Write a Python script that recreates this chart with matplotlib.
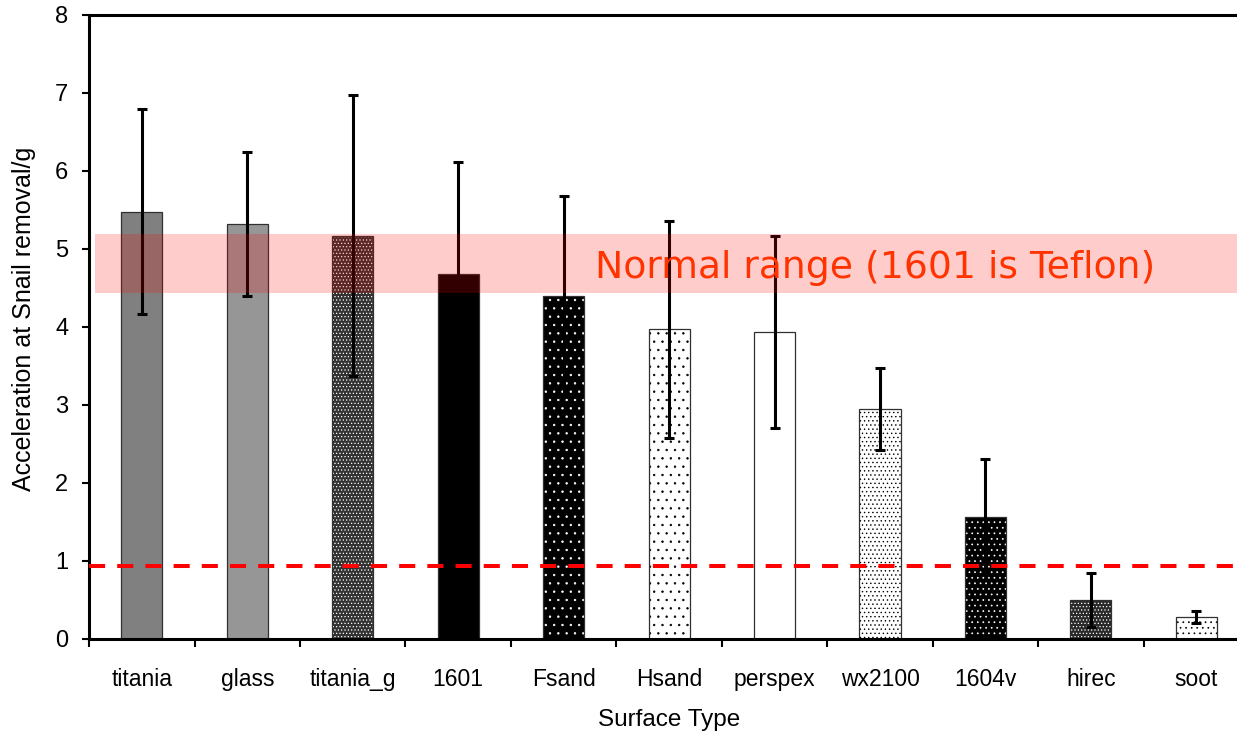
import numpy as np
import matplotlib
matplotlib.use('Agg')
import matplotlib.pyplot as plt

# values
surfaces = ['titania', 'glass', 'titania_g', '1601', 'Fsand', 'Hsand',
            'perspex', 'wx2100', '1604v', 'hirec', 'soot']
accel = [5.48, 5.32, 5.17, 4.68, 4.40, 3.97, 3.94, 2.95, 1.57, 0.50, 0.28]
accel_err = [1.32, 0.92, 1.80, 1.44, 1.28, 1.39, 1.23, 0.53, 0.74, 0.35, 0.08]
normal_low, normal_high = 4.44, 5.19
threshold = 0.94
band_label = 'Normal range (1601 is Teflon)'

# bar fill styles (face colour, hatch, hatch colour)
FACES = ['#808080', '#969696', '#333333', '#000000', '#000000', '#ffffff',
         '#ffffff', '#ffffff', '#000000', '#2a2a2a', '#ffffff']
HATCHES = ['', '', '.....', '', '..', '..', '', '....', '...', '.....', '...']
HATCH_COLS = ['k', 'k', 'w', 'k', 'w', 'k', 'k', 'k', 'w', 'w', 'k']

plt.rcParams['font.family'] = ['Liberation Sans', 'DejaVu Sans']
plt.rcParams['hatch.linewidth'] = 0.5

fig = plt.figure(figsize=(12.37, 7.31), dpi=100)
ax = fig.add_axes([0.072, 0.1259, 0.9378, 0.8536])

x = np.arange(len(surfaces))
w = 0.39
for i in range(len(surfaces)):
    ax.bar(x[i], accel[i], width=w, color=FACES[i], hatch=HATCHES[i] or None,
           edgecolor=HATCH_COLS[i], linewidth=0, zorder=2)
ax.bar(x, accel, width=w, facecolor='none', edgecolor='#303030',
       linewidth=0.9, zorder=2.5)

ax.errorbar(x, accel, yerr=accel_err, fmt='none', ecolor='black',
            elinewidth=2.2, capsize=3.3, capthick=2.2, zorder=3)

ax.axhspan(normal_low, normal_high, xmin=0.005, xmax=1, color='red',
           alpha=0.2, linewidth=0, zorder=5)
ax.text(4.296, 4.76, band_label, color='#ff3300',
        fontsize=27.2, family='DejaVu Sans', ha='left', va='center',
        zorder=6)

ax.axhline(threshold, color='#ff0000', linewidth=2.9, dashes=(4, 3),
           zorder=4)

ax.set_xlim(-0.5, len(surfaces) - 0.5)
ax.set_ylim(0, 8)
ax.set_yticks(range(9))
ax.set_xticks(x)
ax.set_xticklabels(surfaces)
ax.set_xticks(np.arange(-0.5, len(surfaces), 1), minor=True)
ax.tick_params(axis='x', which='major', length=0, pad=21, labelsize=16.5)
ax.tick_params(axis='x', which='minor', length=6, width=1.5, direction='out')
ax.tick_params(axis='y', length=5, width=1.5, pad=10, labelsize=17)

for side in ['left', 'bottom', 'top', 'right']:
    ax.spines[side].set_linewidth(2.2)

ax.set_xlabel('Surface Type', fontsize=17.5, labelpad=13)
ax.set_ylabel('Acceleration at Snail removal/g', fontsize=18)
ax.yaxis.set_label_coords(-0.0455, 0.513)

fig.savefig('out.png', dpi=100)
